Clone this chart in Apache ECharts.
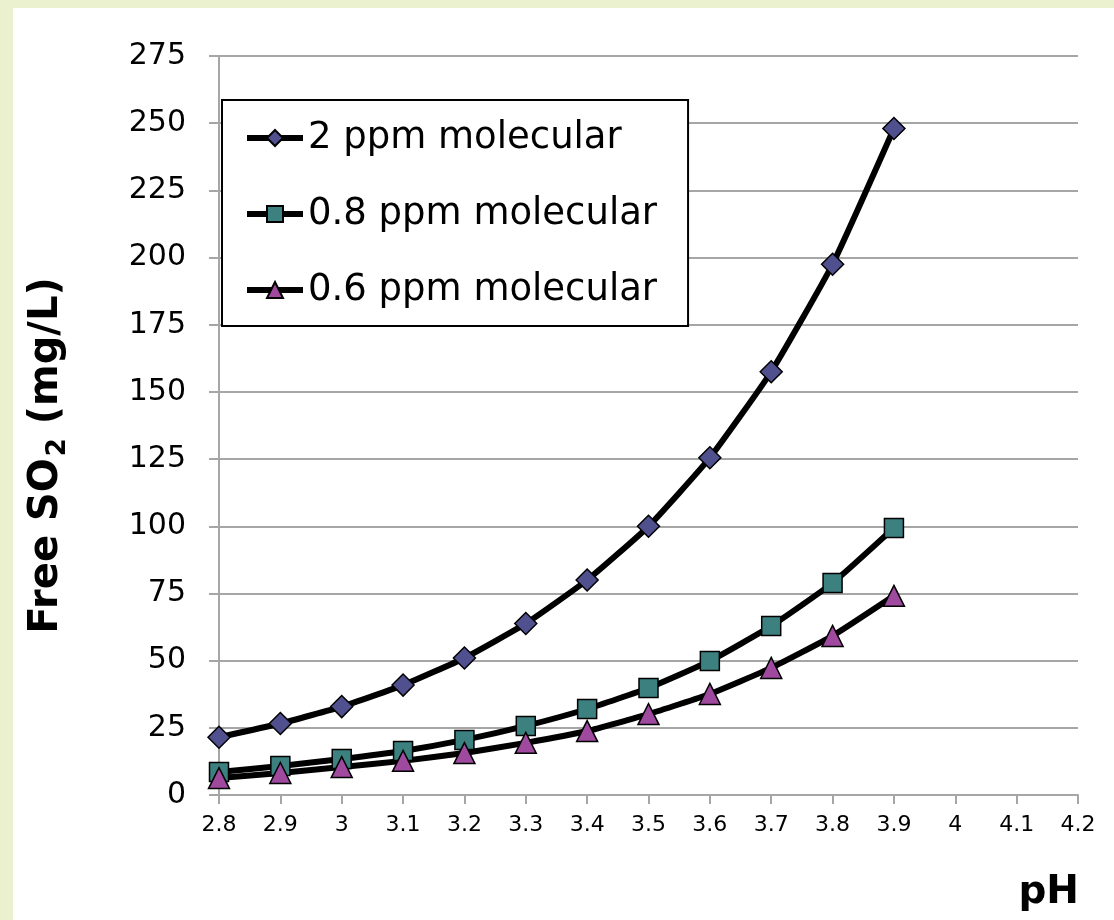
<!DOCTYPE html>
<html>
<head>
<meta charset="utf-8">
<script src="https://cdn.jsdelivr.net/npm/echarts@6/dist/echarts.min.js"></script>
<style>
  html, body { margin: 0; padding: 0; background: #EBF0CF; width: 1114px; height: 920px; overflow: hidden; }
  #main { position: absolute; left: 13px; top: 8px; width: 1101px; height: 912px; background: #fff; }
</style>
</head>
<body>
<div id="main"></div>
<script>
// pH values along x
var phValues = [2.8, 2.9, 3.0, 3.1, 3.2, 3.3, 3.4, 3.5, 3.6, 3.7, 3.8, 3.9];
// free SO2 (mg/L) needed for each molecular level
var ppm2 = [21.5, 26.6, 32.9, 40.9, 51.0, 63.8, 80.0, 100.0, 125.5, 157.5, 197.5, 248.0];
var ppm08 = [8.6, 10.8, 13.4, 16.4, 20.5, 25.7, 32.0, 39.8, 49.9, 62.9, 78.9, 99.4];
var ppm06 = [6.3, 8.2, 10.4, 12.7, 15.6, 19.4, 23.8, 30.1, 37.6, 47.3, 59.2, 74.1];
var seriesNames = ['2 ppm molecular', '0.8 ppm molecular', '0.6 ppm molecular'];

var font = 'DejaVu Sans';
var gridColor = '#A6A6A6';

function pairs(vals) {
  return phValues.map(function (x, i) { return [x, vals[i]]; });
}

function makeSeries(name, vals, symbol, size, color) {
  return {
    name: name,
    type: 'line',
    data: pairs(vals),
    symbol: symbol,
    symbolSize: size,
    showAllSymbol: true,
    smooth: 0.15,
    lineStyle: { color: '#000', width: 6 },
    itemStyle: { color: color, borderColor: '#000', borderWidth: 1.5 },
    emphasis: { disabled: true },
    z: 3
  };
}

var chart = echarts.init(document.getElementById('main'));
var option = {
  animation: false,
  textStyle: { fontFamily: font },
  grid: { left: 205, right: 36, top: 48, bottom: 125 },
  title: {
    text: 'pH',
    right: 30,
    top: 860,
    textStyle: { fontFamily: font, fontSize: 39, fontWeight: 'bold', color: '#000' }
  },
  legend: {
    orient: 'vertical',
    left: 209,
    top: 92,
    padding: [16, 31, 14, 22],
    itemGap: 32,
    itemWidth: 56,
    itemHeight: 20,
    backgroundColor: '#fff',
    borderColor: '#000',
    borderWidth: 2,
    lineStyle: { width: 6, color: '#000' },
    textStyle: { fontFamily: font, fontSize: 37, color: '#000', lineHeight: 44 },
    data: seriesNames
  },
  xAxis: {
    type: 'value',
    min: 2.8,
    max: 4.2,
    interval: 0.1,
    axisLine: { lineStyle: { color: gridColor, width: 2 } },
    axisTick: { show: true, length: 9, lineStyle: { color: gridColor, width: 2 } },
    axisLabel: {
      margin: 19, fontSize: 22, color: '#000', fontFamily: font,
      formatter: function (v) { return String(Math.round(v * 10) / 10); }
    },
    splitLine: { show: false }
  },
  yAxis: {
    type: 'value',
    min: 0,
    max: 275,
    interval: 25,
    name: '{a|Free SO}{s|2}{a| (mg/L)}',
    nameLocation: 'middle',
    nameGap: 148,
    nameTextStyle: {
      padding: [0, 60, 0, 0],
      rich: {
        a: { fontFamily: font, fontSize: 40, fontWeight: 'bold', color: '#000', lineHeight: 48, verticalAlign: 'middle' },
        s: { fontFamily: font, fontSize: 26, fontWeight: 'bold', color: '#000', lineHeight: 48, verticalAlign: 'bottom', padding: [24, 0, 0, 2] }
      }
    },
    axisLine: { show: true, lineStyle: { color: gridColor, width: 2 } },
    axisTick: { show: true, length: 10, lineStyle: { color: gridColor, width: 2 } },
    axisLabel: { margin: 33, fontSize: 30, color: '#000', fontFamily: font },
    splitLine: { lineStyle: { color: gridColor, width: 2 } }
  },
  series: [
    makeSeries(seriesNames[0], ppm2, 'diamond', 22, '#51508F'),
    makeSeries(seriesNames[1], ppm08, 'rect', 19, '#3C8080'),
    makeSeries(seriesNames[2], ppm06, 'triangle', 21, '#9F4A9F')
  ]
};
chart.setOption(option);
</script>
</body>
</html>
